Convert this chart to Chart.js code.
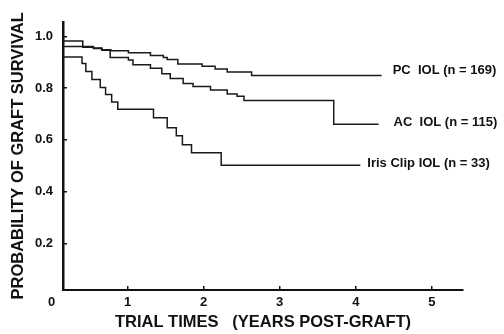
<!DOCTYPE html>
<html>
<head>
<meta charset="utf-8">
<script src="https://cdn.jsdelivr.net/npm/chart.js@4"></script>
<style>
  html, body { margin: 0; padding: 0; background: #fff; }
  canvas { display: block; }
</style>
</head>
<body>
<canvas id="myChart" width="504" height="334"></canvas>
<script>
// Kaplan-Meier curves: time (years) where survival drops, and new value
const seriesNames = ['PC  IOL (n = 169)', 'AC  IOL (n = 115)', 'Iris Clip IOL (n = 33)'];

const pcTimes  = [0.15, 0.41, 0.55, 0.66, 0.78, 1.01, 1.30, 1.47, 1.52, 1.66, 1.98, 2.15, 2.31, 2.63, 4.34];
const pcValues = [0.982, 0.961, 0.955, 0.948, 0.944, 0.936, 0.926, 0.918, 0.910, 0.893, 0.884, 0.874, 0.862, 0.849, 0.849];

const acTimes  = [0.15, 0.41, 0.55, 0.66, 0.77, 1.01, 1.07, 1.30, 1.45, 1.56, 1.73, 1.86, 2.09, 2.31, 2.44, 2.53, 3.71, 4.30];
const acValues = [0.961, 0.958, 0.953, 0.946, 0.918, 0.908, 0.890, 0.877, 0.855, 0.837, 0.818, 0.806, 0.793, 0.777, 0.768, 0.752, 0.660, 0.660];

const irisTimes  = [0.15, 0.40, 0.45, 0.53, 0.64, 0.71, 0.79, 0.87, 1.34, 1.52, 1.64, 1.72, 1.84, 2.23, 4.06];
const irisValues = [0.920, 0.895, 0.864, 0.833, 0.802, 0.775, 0.746, 0.718, 0.685, 0.647, 0.616, 0.581, 0.550, 0.502, 0.502];

const xTicks = [0, 1, 2, 3, 4, 5];
const yTicks = [0.2, 0.4, 0.6, 0.8, 1.0];

document.addEventListener('DOMContentLoaded', () => {
    const ctx = document.getElementById('myChart').getContext('2d');
    const ink = '#111';
    const family = '"Liberation Sans", Arial, Helvetica, sans-serif';

    const toPoints = (times, values) => times.map((t, i) => ({ x: t, y: values[i] }));

    const lineStyle = {
        stepped: true,
        borderColor: '#1a1a1a',
        borderWidth: 1.5,
        pointRadius: 0,
        fill: false
    };

    // end-of-line labels, placed next to each curve's last point
    const endLabels = {
        id: 'endLabels',
        afterDatasetsDraw(chart) {
            const c = chart.ctx;
            const gaps = [11, 15, 7];
            const lifts = [-5, -2, -2];
            c.save();
            c.font = 'bold 13px ' + family;
            c.fillStyle = ink;
            c.textAlign = 'left';
            c.textBaseline = 'middle';
            chart.data.datasets.forEach((ds, i) => {
                const pts = chart.getDatasetMeta(i).data;
                const last = pts[pts.length - 1];
                c.fillText(ds.label, last.x + gaps[i], last.y + lifts[i]);
            });
            c.restore();
        }
    };

    new Chart(ctx, {
        type: 'line',
        data: {
            datasets: [
                { label: seriesNames[0], data: toPoints(pcTimes, pcValues), ...lineStyle },
                { label: seriesNames[1], data: toPoints(acTimes, acValues), ...lineStyle },
                { label: seriesNames[2], data: toPoints(irisTimes, irisValues), ...lineStyle }
            ]
        },
        options: {
            responsive: false,
            animation: false,
            layout: { padding: { top: 13, right: 41, left: 0, bottom: 0 } },
            plugins: {
                legend: { display: false },
                tooltip: { enabled: false }
            },
            scales: {
                x: {
                    type: 'linear',
                    min: 0.15,
                    max: 5.41,
                    afterBuildTicks: (scale) => { scale.ticks = xTicks.map(v => ({ value: v })); },
                    afterFit: (scale) => { scale.height = 44; },
                    border: { color: ink, width: 2 },
                    grid: {
                        display: true,
                        drawOnChartArea: false,
                        // the "0" label sits left of the axis, no tick mark there
                        color: (c) => (c.tick && c.tick.value === 0 ? 'rgba(0,0,0,0)' : ink),
                        tickLength: -4,
                        lineWidth: 1.5
                    },
                    ticks: {
                        autoSkip: false,
                        maxRotation: 0,
                        padding: 9,
                        color: ink,
                        font: { family: family, size: 13, weight: 'bold' },
                        callback: (v) => String(v)
                    },
                    title: {
                        display: true,
                        text: 'TRIAL TIMES   (YEARS POST-GRAFT)',
                        color: ink,
                        font: { family: family, size: 16.5, weight: 'bold' },
                        padding: { top: 0, bottom: 2 }
                    }
                },
                y: {
                    min: 0.02,
                    max: 1.056,
                    afterBuildTicks: (scale) => { scale.ticks = yTicks.map(v => ({ value: v })); },
                    afterFit: (scale) => { scale.width = 63; },
                    border: { color: ink, width: 2.5 },
                    grid: { display: true, drawOnChartArea: false, color: ink, tickLength: -4, lineWidth: 1.5 },
                    ticks: {
                        autoSkip: false,
                        padding: 14,
                        color: ink,
                        font: { family: family, size: 13, weight: 'bold' },
                        callback: (v) => v.toFixed(1)
                    },
                    title: {
                        display: true,
                        text: 'PROBABILITY OF GRAFT SURVIVAL',
                        color: ink,
                        font: { family: family, size: 16.5, weight: 'bold' },
                        padding: { top: 9, bottom: 0 }
                    }
                }
            }
        },
        plugins: [endLabels]
    });
});
</script>
</body>
</html>
